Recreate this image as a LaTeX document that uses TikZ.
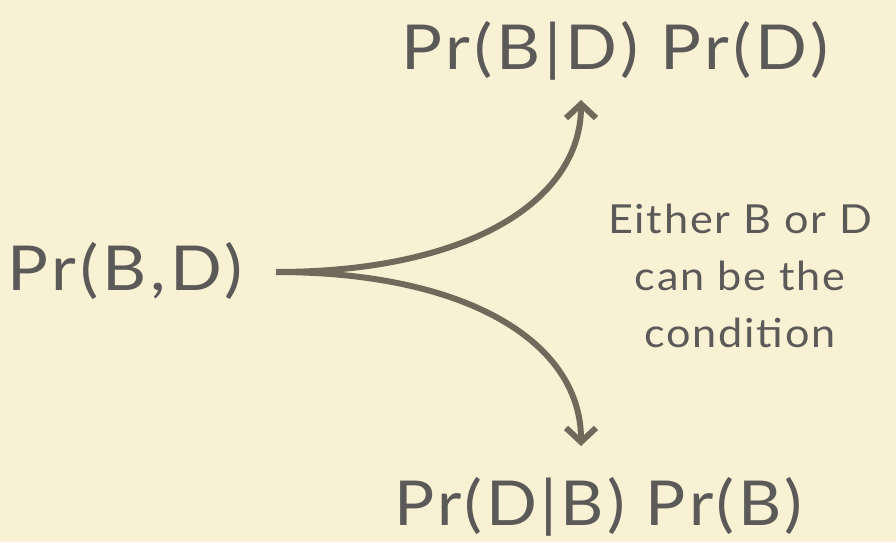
\documentclass[tikz,border=0pt]{standalone}
\usepackage{fontspec}
\setmainfont{Lato}
\newfontfamily\bigfont[FakeStretch=1.1, LetterSpace=6.5]{Lato}
\newfontfamily\botfont[FakeStretch=1.08, LetterSpace=5.5]{Lato}
\newfontfamily\notefont[FakeStretch=1.08, LetterSpace=4.5]{Lato}
\usetikzlibrary{arrows.meta}
\definecolor{bgcol}{HTML}{F9F1D4}
\definecolor{txtcol}{HTML}{5B5A58}
\definecolor{arrcol}{HTML}{716A5A}
\tikzset{
  bigtext/.style={inner sep=0pt, anchor=base west, text=txtcol, font=\bigfont\fontsize{62}{70}\selectfont},
  bottext/.style={inner sep=0pt, anchor=base west, text=txtcol, font=\botfont\fontsize{62}{70}\selectfont},
  notetext/.style={inner sep=0pt, anchor=center, text=txtcol, align=center, font=\notefont\fontsize{40}{57}\selectfont},
  fork/.style={draw=arrcol, line width=6pt, -{Straight Barb[length=14pt, width=30pt, line width=6pt]}}
}
\begin{document}
\begin{tikzpicture}[x=1pt, y=1pt]
\fill[bgcol] (0,0) rectangle (896,542);
\useasboundingbox (0,0) rectangle (896,542);
\node[bigtext] (joint) at (7,252) {Pr(B,D)};
\node[bigtext] (top) at (401,472) {Pr(B|D) Pr(D)};
\node[bottext] (bot) at (394,17) {Pr(D|B) Pr(B)};
\node[notetext] (note) at (740,266) {Either B or D\\can be the\\condition};
\coordinate (start) at (276,270);
\coordinate (topend) at (581,442);
\coordinate (botend) at (581,96);
\draw[fork] (start) .. controls (470,270) and (581,342) .. (topend);
\draw[fork] (start) .. controls (470,270) and (581,198) .. (botend);
\end{tikzpicture}
\end{document}
